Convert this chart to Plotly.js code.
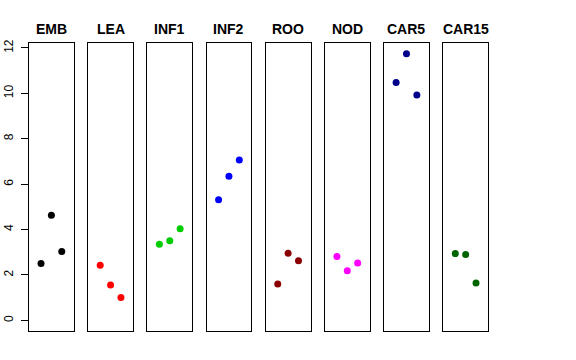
<!DOCTYPE html>
<html>
<head>
<meta charset="utf-8">
<script src="https://cdn.plot.ly/plotly-3.0.1.min.js"></script>
<style>html,body{margin:0;padding:0;background:#fff;}#chart{width:576px;height:360px;}</style>
</head>
<body>
<div id="chart"></div>
<script>
var categories = ["EMB", "LEA", "INF1", "INF2", "ROO", "NOD", "CAR5", "CAR15"];
var colors = ["#000000", "#FF0000", "#00CD00", "#0000FF", "#8B0000", "#FF00FF", "#00008B", "#006400"];
var xPositions = [1, 2, 3];
var EMB = [2.50, 4.63, 3.03];
var LEA = [2.43, 1.56, 1.01];
var INF1 = [3.35, 3.51, 4.03];
var INF2 = [5.31, 6.35, 7.07];
var ROO = [1.60, 2.96, 2.63];
var NOD = [2.81, 2.18, 2.53];
var CAR5 = [10.48, 11.75, 9.93];
var CAR15 = [2.94, 2.90, 1.65];
var seriesValues = [EMB, LEA, INF1, INF2, ROO, NOD, CAR5, CAR15];
var yTicks = [0, 2, 4, 6, 8, 10, 12];

var W = 576, H = 360;
var left0 = 29, step = 59.18, pw = 44.8;
var boxTop = 43, boxBottom = 331;
var traces = [];
var layout = {
  width: W, height: H,
  margin: {l: 0, r: 0, t: 0, b: 0},
  paper_bgcolor: "#fff", plot_bgcolor: "#fff",
  showlegend: false,
  font: {family: "Liberation Sans, Arial, sans-serif", color: "#000"},
  annotations: []
};
for (var i = 0; i < categories.length; i++) {
  var sfx = i === 0 ? "" : String(i + 1);
  var x0 = (left0 + step * i) / W, x1 = (left0 + step * i + pw) / W;
  traces.push({
    type: "scatter", mode: "markers",
    x: xPositions, y: seriesValues[i],
    xaxis: "x" + sfx, yaxis: "y" + sfx,
    marker: {color: colors[i], size: 7},
    hoverinfo: "skip"
  });
  layout["xaxis" + sfx] = {
    domain: [x0, x1], range: [-0.16, 4.16], anchor: "y" + sfx,
    showgrid: false, zeroline: false, showticklabels: false, ticks: "",
    showline: true, mirror: true, linecolor: "#000", linewidth: 1
  };
  var ya = {
    domain: [(H - boxBottom) / H, (H - boxTop) / H], range: [-0.47, 12.22], anchor: "x" + sfx,
    showgrid: false, zeroline: false,
    showline: true, mirror: true, linecolor: "#000", linewidth: 1
  };
  if (i === 0) {
    ya.tickvals = yTicks; ya.ticktext = yTicks.map(String);
    ya.ticks = "outside"; ya.ticklen = 7; ya.tickcolor = "#000";
    ya.ticklabelstandoff = 3;
    ya.tickangle = -90; ya.tickfont = {size: 12, color: "#000"};
  } else {
    ya.showticklabels = false; ya.ticks = "";
  }
  layout["yaxis" + sfx] = ya;
  layout.annotations.push({
    text: "<b>" + categories[i] + "</b>", xref: "paper", yref: "paper",
    x: (x0 + x1) / 2, y: (H - 29) / H, xanchor: "center", yanchor: "middle",
    showarrow: false, font: {size: 14, color: "#000"}
  });
}
Plotly.newPlot("chart", traces, layout, {staticPlot: true, displayModeBar: false});
</script>
</body>
</html>
